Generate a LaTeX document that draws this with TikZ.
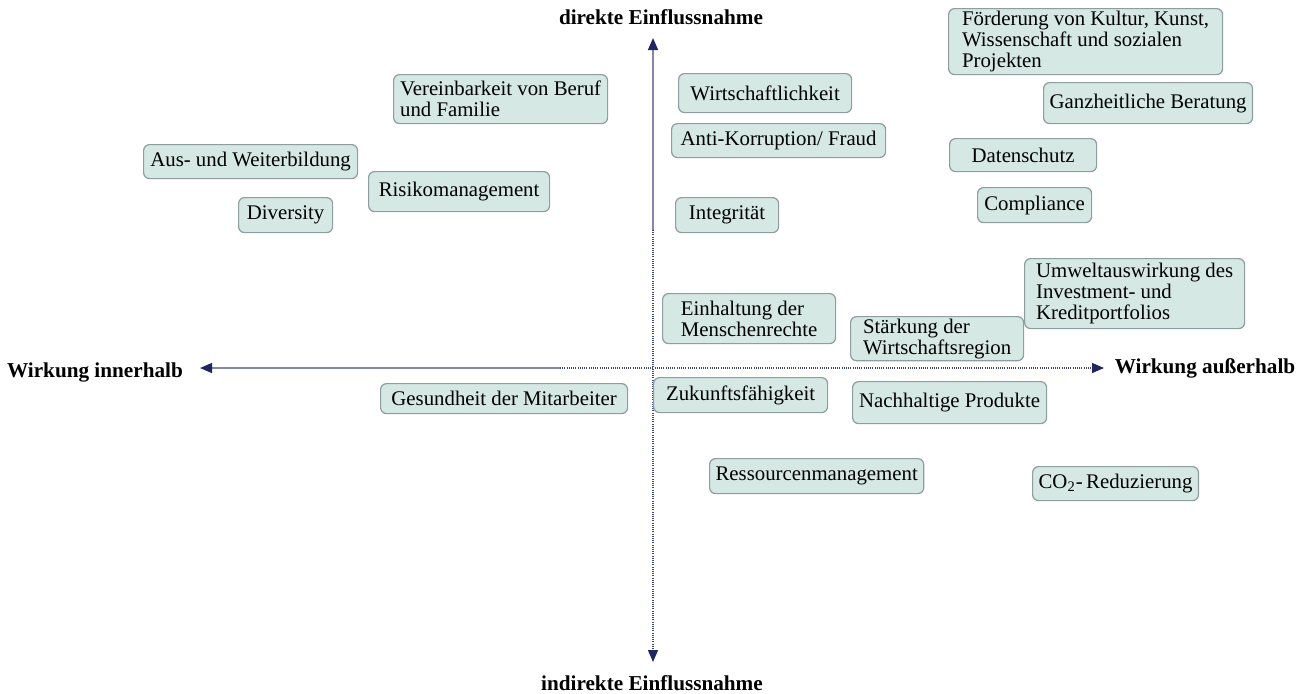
\documentclass[tikz,border=0pt]{standalone}
\usepackage{fontspec}
\setmainfont{Liberation Serif}
\usetikzlibrary{arrows.meta}
\definecolor{boxfill}{HTML}{D5E8E4}
\definecolor{boxedge}{HTML}{8E9E9E}
\definecolor{axisnavy}{HTML}{1F2660}
\definecolor{axisgray}{HTML}{8587A6}
\tikzset{
  topic/.style={draw=boxedge, fill=boxfill, line width=0.6pt, rounded corners=3pt,
    anchor=north west, align=left, inner xsep=3pt, inner ysep=1pt,
    font=\fontsize{10.4}{10.6}\selectfont},
  axislabel/.style={font=\fontsize{10.6}{11}\selectfont\bfseries},
  tip/.style={-{Triangle[length=6pt,width=5pt,fill=axisnavy,color=axisnavy]}},
  dots/.style={axisnavy!85, line width=0.6pt, dash pattern=on 0.5pt off 0.6pt}
}
\begin{document}
\begin{tikzpicture}[x=0.5pt,y=-0.5pt]
  \useasboundingbox (0,0) rectangle (1310,693);
  % axes
  \coordinate (O) at (653,368);
  \coordinate (N) at (653,38);
  \coordinate (S) at (653,662);
  \coordinate (W) at (200,368);
  \coordinate (E) at (1104,368);
  \coordinate (Nd) at (653,230);
  \coordinate (Wd) at (560,368);
  \draw[tip, axisgray, line width=0.7pt] (Nd) -- (N);
  \draw[tip, dots] (Nd) -- (S);
  \draw[tip, axisgray, line width=0.7pt] (Wd) -- (W);
  \draw[tip, dots] (Wd) -- (E);
  \node[axislabel] (top) at (661,17) {direkte Einflussnahme};
  \node[axislabel] (bottom) at (652,683) {indirekte Einflussnahme};
  \node[axislabel] (left) at (95,372) {Wirkung innerhalb};
  \node[axislabel] (right) at (1205,368) {Wirkung außerhalb};
  % topics
  \node[topic, minimum width=137pt, minimum height=33pt] (foerd) at (948,8) {Förderung von Kultur, Kunst,\\Wissenschaft und sozialen\\Projekten};
  \node[topic, minimum width=102pt, minimum height=20.5pt] (ganz) at (1043,82) {Ganzheitliche Beratung};
  \node[topic, minimum width=73.5pt, minimum height=16.5pt] (daten) at (949,138) {Datenschutz};
  \node[topic, minimum width=57pt, minimum height=17.5pt] (compl) at (977,187) {Compliance};
  \node[topic, minimum width=110pt, minimum height=35pt] (umwelt) at (1024,258) {Umweltauswirkung des\\Investment- und\\Kreditportfolios};
  \node[topic, minimum width=86.5pt, minimum height=21pt] (region) at (850,316) {Stärkung der\\Wirtschaftsregion};
  \node[topic, minimum width=86.5pt, minimum height=25pt] (menschen) at (662,293) {Einhaltung der\\Menschenrechte};
  \node[topic, minimum width=86.5pt, minimum height=19.5pt] (wirtsch) at (678,73) {Wirtschaftlichkeit};
  \node[topic, minimum width=107pt, minimum height=17pt] (anti) at (671,123) {Anti-Korruption/ Fraud};
  \node[topic, minimum width=51.5pt, minimum height=17.5pt] (integ) at (675,197) {Integrität};
  \node[topic, minimum width=107pt, minimum height=24.5pt] (verein) at (393,74) {Vereinbarkeit von Beruf\\und Familie};
  \node[topic, minimum width=107pt, minimum height=17pt] (aus) at (143,144) {Aus- und Weiterbildung};
  \node[topic, minimum width=90.5pt, minimum height=20pt] (risiko) at (368,171) {Risikomanagement};
  \node[topic, minimum width=47pt, minimum height=17.5pt] (divers) at (238,197) {Diversity};
  \node[topic, minimum width=123.5pt, minimum height=15pt] (gesund) at (380,383) {Gesundheit der Mitarbeiter};
  \node[topic, minimum width=87pt, minimum height=17.5pt] (zukunft) at (653,377) {Zukunftsfähigkeit};
  \node[topic, minimum width=97pt, minimum height=21pt] (produkte) at (852,381) {Nachhaltige Produkte};
  \node[topic, minimum width=105.5pt, minimum height=17.5pt] (ressourcen) at (709,458) {Ressourcenmanagement};
  \node[topic, minimum width=78.5pt, minimum height=17pt] (co2) at (1032,466) {CO\textsubscript{2}-\,Reduzierung};
\end{tikzpicture}
\end{document}
